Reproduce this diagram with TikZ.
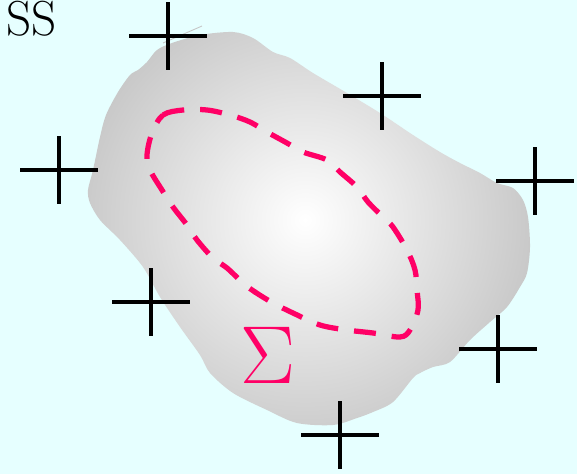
\documentclass[tikz,border=0pt]{standalone}
\usetikzlibrary{calc}
\definecolor{SkyBg}{HTML}{E6FFFF}
\definecolor{LoopPink}{HTML}{FF0066}
\definecolor{BlobEdge}{HTML}{A9A9A9}

\begin{document}
\begin{tikzpicture}[x=0.02cm, y=-0.02cm,
        crossline/.style={black, line width=0.08cm},
        loopline/.style={LoopPink, line width=0.105cm, dash pattern=on 0.44cm off 0.32cm}]
    \useasboundingbox (0,0) rectangle (577,474);
    \fill[SkyBg] (0,0) rectangle (577,474);

    % grey blob with radial shading
    \begin{scope}
        \clip plot[smooth cycle, tension=0.5] coordinates {
            (200,35) (233,32) (253,38) (273,52) (290,58) (313,73) (347,93)
            (380,113) (413,135) (440,152) (460,163) (480,173) (497,183)
            (513,188) (523,200) (528,217) (530,247) (527,273) (520,287)
            (507,307) (490,322) (470,340) (450,362) (433,367) (420,373)
            (413,378) (393,402) (373,412) (357,418) (333,425) (297,423)
            (267,410) (233,393) (210,373) (200,355) (180,327) (160,297)
            (143,267) (120,240) (100,220) (90,203) (88,190) (93,170)
            (100,137) (106,115) (118,92) (130,75) (138,70) (147,62)
            (157,50) (172,43)};
        \shade[inner color=white, outer color=BlobEdge] (305,220) circle (7.2cm);
    \end{scope}
    \draw[gray!45, line width=0.5pt] (163,43) -- (202,26);

    % dashed loop
    \draw[loopline] plot[smooth cycle, tension=0.55] coordinates {
        (152,133) (163,115) (183,110) (207,110) (230,115) (250,122)
        (267,132) (287,143) (303,152) (327,160) (340,172) (357,187)
        (368,202) (383,217) (393,227) (407,250) (415,270) (417,290)
        (418,310) (410,330) (400,337) (373,333) (347,330) (320,325)
        (293,313) (273,303) (255,292) (243,283) (227,268) (213,258)
        (197,240) (187,225) (173,207) (162,190) (150,170) (147,155)};
    \fill[LoopPink] (255,292) circle (0.055cm);

    % crosses
    \foreach \cx/\cy in {168/36, 382/96, 535/181, 59/170, 151/302, 498/349, 340/435} {
        \draw[crossline] ({\cx-39},\cy) -- ({\cx+39},\cy) (\cx,{\cy-34}) -- (\cx,{\cy+34});
    }

    \node[LoopPink, font=\Huge, scale=1.88, inner sep=0] (sigma) at (268,355) {$\Sigma$};
    \node[anchor=base west, font=\fontsize{28}{30}\selectfont, inner sep=0] (title) at (6,35) {SS};
\end{tikzpicture}
\end{document}
